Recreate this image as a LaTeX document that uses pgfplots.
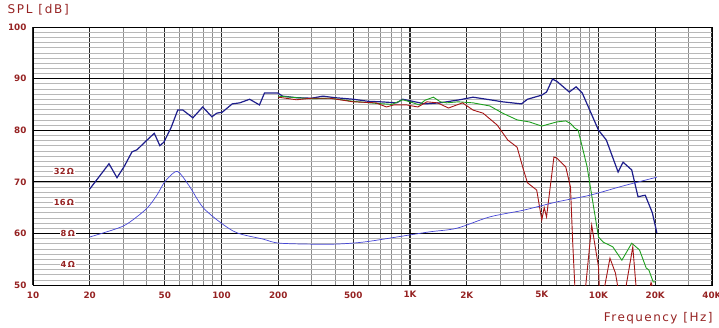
\documentclass[border=0pt]{standalone}
\usepackage{pgfplots}
\pgfplotsset{compat=1.18}
\usepackage{fontspec}
\setmainfont{DejaVu Sans}
\definecolor{lbl}{RGB}{150,35,35}
\definecolor{splblue}{RGB}{30,30,140}
\definecolor{impblue}{RGB}{70,70,215}
\definecolor{splred}{RGB}{165,20,20}
\definecolor{splgreen}{RGB}{30,160,30}

\begin{document}
\begin{tikzpicture}[x=1pt,y=1pt]
\useasboundingbox (-33,-42) rectangle (686,285);
\begin{axis}[
  at={(0,0)}, anchor=south west,
  scale only axis, width=679pt, height=258pt,
  xmode=log, xmin=10, xmax=40000, ymin=50, ymax=100,
  xtick={10,20,50,100,200,500,1000,2000,5000,10000,20000,40000},
  xticklabels={10,20,50,100,200,500,1K,2K,5K,10K,20K,40K},
  minor xtick={30,40,60,70,80,90,300,400,600,700,800,900,3000,4000,6000,7000,8000,9000,30000},
  ytick={50,60,70,80,90,100},
  minor ytick={51,52,...,99},
  grid=both,
  major tick length=0pt, minor tick length=0pt,
  major x grid style={black!85, line width=1.4pt},
  minor x grid style={black!45, line width=0.8pt},
  major y grid style={black, line width=1pt},
  minor y grid style={black!28, line width=0.6pt},
  axis line style={black, line width=1pt},
  tick label style={font=\bfseries\fontsize{8.8}{10}\selectfont, text=lbl},
  yticklabel style={xshift=-3pt},
  xticklabel style={yshift=-3pt},
  /pgf/number format/assume math mode=true,
]
% SPL on axis
\addplot[splblue, line width=1.2pt, no markers] coordinates {
(20,68.6)(25.3,73.5)(27.9,70.8)(30.5,73)(33.5,75.8)(35.6,76.2)(40.3,78.1)(44,79.4)(47.1,77)(49.5,77.7)(54,80.5)(58.6,83.9)(62.4,83.9)(70.5,82.4)(79.5,84.5)(88.9,82.6)(94.4,83.3)(101,83.5)(114,85.1)(125,85.3)(141,86)(159,84.9)(169,87.2)(199,87.2)(211,86.6)(250,86.3)(300,86.2)(345,86.6)(400,86.3)(500,86)(600,85.6)(700,85.5)(850,85.3)(915,86)(1000,85.7)(1200,85.1)(1440,85.3)(1837,85.9)(2160,86.4)(2650,85.9)(3100,85.5)(3900,85.1)(4200,86)(5000,86.8)(5300,87.4)(5700,89.9)(6000,89.5)(7000,87.4)(7600,88.4)(8200,87.2)(10000,80)(11000,78.1)(12700,71.9)(13500,73.8)(15000,72.3)(16200,67.1)(17700,67.4)(19300,64)(20400,60.1)
};
% SPL 30 deg
\addplot[splgreen, line width=0.9pt, no markers] coordinates {
(200,86.6)(250,86.3)(300,86.1)(375,86.2)(500,85.6)(660,85.2)(800,85.0)(915,85.9)(1000,85.5)(1120,84.9)(1200,85.8)(1330,86.4)(1450,85.5)(1560,85.3)(1800,85.5)(2160,85.3)(2650,84.7)(3100,83.3)(3700,82)(4300,81.6)(5000,80.8)(6000,81.6)(6700,81.8)(7100,81.3)(7500,80.4)(7800,80)(8700,72.9)(9200,67.4)(10000,59.3)(10600,58.3)(11900,57.4)(13300,54.8)(15000,58.1)(16500,56.8)(17900,53.3)(18500,52.9)(19500,50.6)(20000,50.6)
};
% SPL 60 deg
\addplot[splred, line width=0.9pt, no markers] coordinates {
(200,86.4)(250,85.9)(300,86.2)(375,86.2)(500,85.5)(660,85.3)(750,84.5)(820,84.9)(960,84.9)(1100,84.5)(1230,85.5)(1400,85.3)(1600,84.3)(1900,85.3)(2160,83.9)(2440,83.3)(2900,81)(3300,78.1)(3700,76.7)(4000,72.3)(4200,69.8)(4700,68.4)(5000,62.6)(5150,65)(5300,63.2)(5800,74.8)(6000,74.6)(6700,72.9)(7100,69)(7300,58.1)(7600,45)(8300,45)(9200,61.6)(10000,53.5)(10200,45)(11500,55.2)(12300,52.3)(13300,45)(15200,57.4)(16200,45)(17500,45)(19000,50.5)(20000,48)
};
% impedance
\addplot[impblue, line width=0.7pt, no markers, smooth] coordinates {
(20,59.3)(25.6,60.5)(30,61.4)(33.8,62.6)(40.3,64.9)(45.4,67.4)(50,70)(56.5,71.9)(60,71.7)(68,69)(79.5,65.1)(98,62.2)(121,60.1)(166,58.9)(205,58.1)(375,57.9)(560,58.3)(850,59.3)(1270,60.3)(1770,61)(2650,63.2)(4000,64.5)(6000,66.1)(9000,67.4)(13500,69.2)(20400,70.9)
};
\node[fill=white, inner sep=1.2pt, text=lbl, font=\bfseries\fontsize{8.3}{9}\selectfont] at (axis cs:14.6,72) {32\,Ω};
\node[fill=white, inner sep=1.2pt, text=lbl, font=\bfseries\fontsize{8.3}{9}\selectfont] at (axis cs:14.6,66) {16\,Ω};
\node[fill=white, inner sep=1.2pt, text=lbl, font=\bfseries\fontsize{8.3}{9}\selectfont] at (axis cs:15.3,60) {8\,Ω};
\node[fill=white, inner sep=1.2pt, text=lbl, font=\bfseries\fontsize{8.3}{9}\selectfont] at (axis cs:15.3,54) {4\,Ω};
\end{axis}
\node[anchor=west, text=lbl, font=\fontsize{12}{13}\selectfont\addfontfeatures{LetterSpace=15}] at (-29,275) {SPL [dB]};
\node[anchor=east, text=lbl, font=\fontsize{12}{13}\selectfont\addfontfeatures{LetterSpace=12}] at (683,-33) {Frequency\enspace[Hz]};
\end{tikzpicture}
\end{document}
